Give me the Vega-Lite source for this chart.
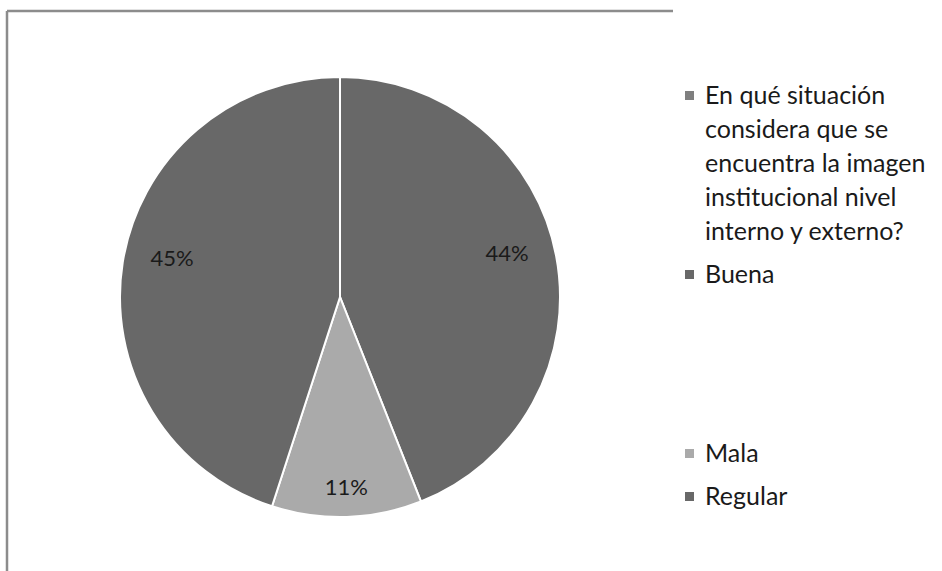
{
  "$schema": "https://vega.github.io/schema/vega-lite/v6.json",
  "width": 666,
  "height": 572,
  "autosize": {"type": "none"},
  "padding": {"left": 7, "top": 11, "right": 269, "bottom": 0},
  "background": "white",
  "view": {"stroke": "#8c8c8c", "strokeWidth": 2.5, "strokeDash": [666, 1238, 572, 0]},
  "config": {
    "view": {"stroke": "#8c8c8c", "strokeWidth": 2.5, "strokeDash": [666, 1238, 572, 0]},
    "style": {"guide-label": {"lineHeight": 34}}
  },
  "data": {
    "values": [
      {"respuesta": "En qué situación\nconsidera que se\nencuentra la imagen\ninstitucional  nivel\ninterno y externo?", "porcentaje": 0, "orden": 0},
      {"respuesta": "Buena", "porcentaje": 0.44, "orden": 1},
      {"respuesta": "Mala", "porcentaje": 0.11, "orden": 2},
      {"respuesta": "Regular", "porcentaje": 0.45, "orden": 3}
    ]
  },
  "encoding": {
    "theta": {"field": "porcentaje", "type": "quantitative", "stack": true},
    "order": {"field": "orden", "type": "quantitative"}
  },
  "layer": [
    {
      "mark": {"type": "arc", "outerRadius": 220, "stroke": "white", "strokeWidth": 2},
      "encoding": {
        "color": {
          "field": "respuesta",
          "type": "nominal",
          "sort": null,
          "scale": {"range": ["#7f7f7f", "#686868", "#aaaaaa", "#686868"]},
          "legend": {
            "title": null,
            "orient": "none",
            "legendX": 670,
            "legendY": 72,
            "padding": 0,
            "symbolType": "square",
            "symbolSize": 81,
            "symbolStrokeWidth": 0,
            "labelOffset": 3,
            "labelFont": "Lato",
            "labelFontSize": 25,
            "labelColor": "#1a1a1a",
            "labelLimit": 300,
            "labelExpr": "datum.label == 'Buena' ? ['Buena', '', '', '', ''] : split(datum.label, '\\n')",
            "rowPadding": 17
          }
        }
      }
    },
    {
      "mark": {"type": "text", "radius": 170, "dy": -11, "font": "Lato", "fontSize": 22, "color": "#1a1a1a"},
      "encoding": {
        "text": {"condition": {"test": "datum.porcentaje < 0.2", "value": ""}, "field": "porcentaje", "type": "quantitative", "format": ".0%"}
      }
    },
    {
      "mark": {"type": "text", "radius": 202, "dy": -11, "font": "Lato", "fontSize": 22, "color": "#1a1a1a"},
      "encoding": {
        "text": {"condition": {"test": "datum.porcentaje == 0 || datum.porcentaje >= 0.2", "value": ""}, "field": "porcentaje", "type": "quantitative", "format": ".0%"}
      }
    }
  ]
}
